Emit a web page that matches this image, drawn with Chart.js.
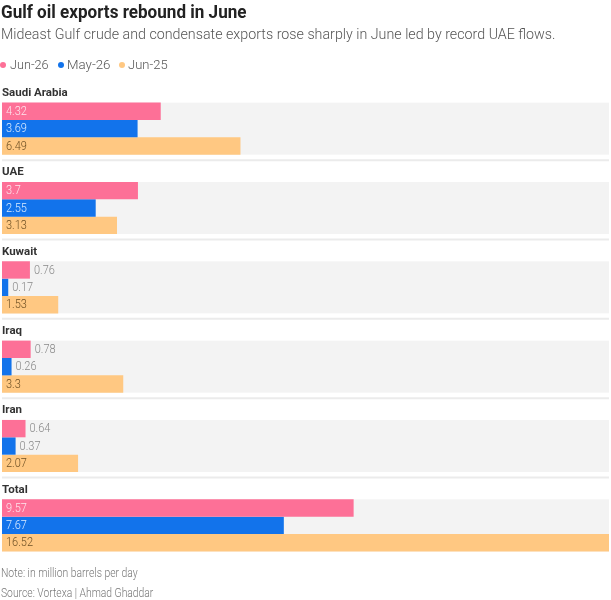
<!DOCTYPE html>
<html><head><meta charset="utf-8">
<script src="https://cdn.jsdelivr.net/npm/chart.js@4/dist/chart.umd.min.js"></script>
<style>
html,body{margin:0;padding:0;background:#fff;width:611px;height:600px;overflow:hidden;}
#wrap{position:relative;width:611px;height:600px;}
canvas{position:absolute;left:0;top:0;}
.t{position:absolute;left:1px;white-space:nowrap;font-family:Roboto,"Liberation Sans",sans-serif;display:inline-block;transform-origin:0 50%;}
#title{top:2px;font-size:17.5px;line-height:20px;font-weight:700;color:#222;}
#sub{top:25px;font-size:14px;line-height:18px;font-weight:300;color:#555;}
#note{top:566px;font-size:12.5px;line-height:14px;font-weight:300;color:#777;}
#src{top:586px;font-size:12.5px;line-height:14px;font-weight:300;color:#777;}
.lg{position:absolute;top:57px;height:16px;line-height:16px;font-family:Roboto,"Liberation Sans",sans-serif;font-weight:300;font-size:13px;color:#555;white-space:nowrap;display:inline-block;transform-origin:0 50%;}
.dot{position:absolute;top:62px;width:6px;height:6px;border-radius:50%;}
</style></head>
<body><div id="wrap">
<canvas id="c" width="611" height="600"></canvas>
<div class="t" id="title">Gulf oil exports rebound in June</div>
<div class="t" id="sub">Mideast Gulf crude and condensate exports rose sharply in June led by record UAE flows.</div>
<div id="legend"></div>
<div class="t" id="note">Note: in million barrels per day</div>
<div class="t" id="src">Source: Vortexa | Ahmad Ghaddar</div>
</div>
<script>
const categories = ['Saudi Arabia','UAE','Kuwait','Iraq','Iran','Total'];
const seriesNames = ['Jun-26','May-26','Jun-25'];
const jun26 = [4.32,3.7,0.76,0.78,0.64,9.57];
const may26 = [3.69,2.55,0.17,0.26,0.37,7.67];
const jun25 = [6.49,3.13,1.53,3.3,2.07,16.52];
const colors = ['#fd7097','#1273eb','#ffc882'];
const insideText = ['#fde6ee','#dcecff','#6e5024'];
const FONT = 'Roboto,"Liberation Sans",sans-serif';
Chart.defaults.font.family = FONT;

// legend (HTML)
const legendPos = [[0,10,39],[58,67,43],[119,128,40]]; // dot left, text left, text width
const lg = document.getElementById('legend');
seriesNames.forEach((n,i)=>{
  const d = document.createElement('div'); d.className='dot';
  d.style.left = legendPos[i][0]+'px'; d.style.background = colors[i]; lg.appendChild(d);
  const s = document.createElement('div'); s.className='lg'; s.textContent = n;
  s.style.left = legendPos[i][1]+'px'; s.dataset.w = legendPos[i][2]; lg.appendChild(s);
});
function fit(el, w){ const a = el.offsetWidth; if(a>0) el.style.transform = 'scaleX('+(w/a)+')'; }
fit(document.getElementById('title'),246);
fit(document.getElementById('sub'),555);
fit(document.getElementById('note'),137);
fit(document.getElementById('src'),152);
document.querySelectorAll('.lg').forEach(el=>fit(el, +el.dataset.w));

function narrowText(ctx, txt, x, y, sx){
  ctx.save(); ctx.translate(x,y); ctx.scale(sx,1); ctx.fillText(txt,0,0); ctx.restore();
}

const bandPlugin = {
  id:'bands',
  beforeDatasetsDraw(chart){
    const {ctx, chartArea:a, scales:{y}} = chart;
    ctx.save();
    categories.forEach((c,i)=>{
      const cy = y.getPixelForValue(i);
      ctx.fillStyle = '#f3f3f3';
      ctx.fillRect(a.left, cy-26, a.right-a.left, 52);
      if(i < categories.length-1){
        ctx.strokeStyle = '#ebebeb';
        ctx.lineWidth = 2;
        ctx.beginPath();
        ctx.moveTo(a.left, cy+31.5);
        ctx.lineTo(a.right, cy+31.5);
        ctx.stroke();
      }
      ctx.fillStyle = '#333';
      ctx.font = '700 11.5px '+FONT;
      ctx.textBaseline = 'middle';
      ctx.textAlign = 'left';
      ctx.fillText(c, a.left, cy-35.5);
    });
    ctx.restore();
  },
  afterDatasetsDraw(chart){
    const {ctx} = chart;
    const sx = 0.88;
    ctx.save();
    ctx.font = '300 12.5px '+FONT;
    ctx.textBaseline = 'middle';
    ctx.textAlign = 'left';
    chart.data.datasets.forEach((ds,di)=>{
      chart.getDatasetMeta(di).data.forEach((bar,i)=>{
        const txt = String(ds.data[i]);
        const tw = ctx.measureText(txt).width*sx;
        const w = bar.x - bar.base;
        if(w > tw + 16){
          ctx.fillStyle = insideText[di];
          narrowText(ctx, txt, bar.base+4, bar.y+0.5, sx);
        } else {
          ctx.fillStyle = '#888';
          narrowText(ctx, txt, bar.x+4, bar.y+0.5, sx);
        }
      });
    });
    ctx.restore();
  }
};

new Chart(document.getElementById('c'), {
  type:'bar',
  data:{
    labels: categories,
    datasets:[
      {label:seriesNames[0], data:jun26, backgroundColor:colors[0]},
      {label:seriesNames[1], data:may26, backgroundColor:colors[1]},
      {label:seriesNames[2], data:jun25, backgroundColor:colors[2]}
    ]
  },
  options:{
    indexAxis:'y',
    responsive:false,
    animation:false,
    events:[],
    layout:{padding:{top:89,left:2,right:2,bottom:35}},
    datasets:{bar:{categoryPercentage:0.657,barPercentage:1,borderWidth:0}},
    scales:{
      x:{display:false,min:0,max:16.52},
      y:{display:false}
    },
    plugins:{
      legend:{display:false},
      tooltip:{enabled:false}
    }
  },
  plugins:[bandPlugin]
});
</script>
</body></html>
